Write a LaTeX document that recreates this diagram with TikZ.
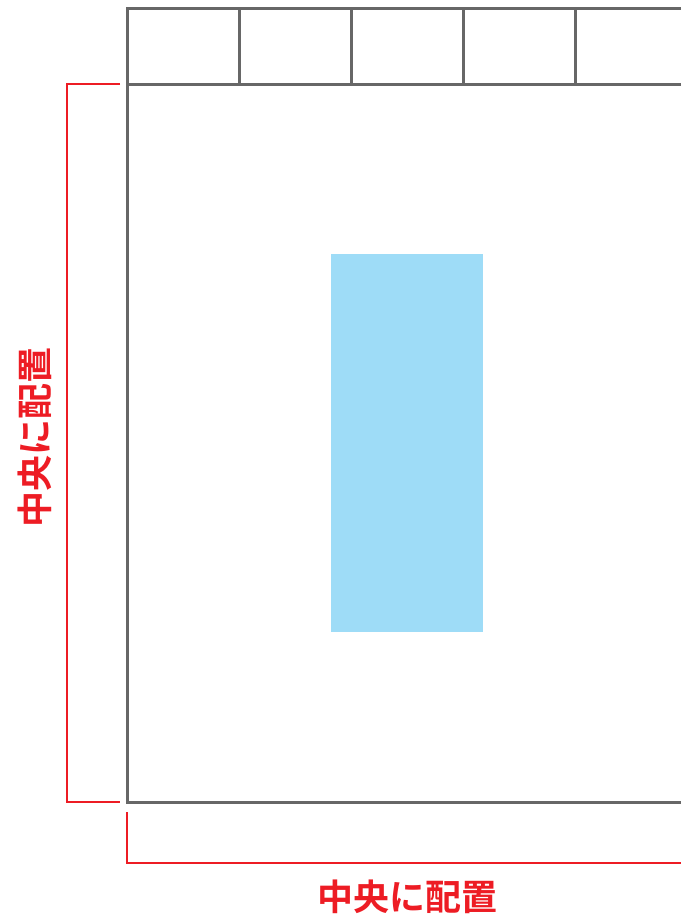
\documentclass[tikz,border=0pt]{standalone}
\usepackage{fontspec}
\newfontfamily\jpfont{Noto Sans CJK JP}[BoldFont={Noto Sans CJK JP Bold}]
\usetikzlibrary{positioning}
\definecolor{framegray}{HTML}{676767}
\definecolor{guidered}{HTML}{ED1C24}
\definecolor{itemblue}{HTML}{9EDCF7}

\begin{document}
\begin{tikzpicture}[
  x=1pt, y=-1pt,
  frame/.style={draw=framegray, line width=3pt},
  guide/.style={draw=guidered, line width=2.6pt},
  guidelabel/.style={font=\jpfont\bfseries\fontsize{36}{36}\selectfont, text=guidered, inner sep=0pt},
]
\useasboundingbox (0,0) rectangle (681,914);

% ═══════════════════════════════════════════
% HEADER ROW
% ═══════════════════════════════════════════
\coordinate (hdrtl) at (127,8);
\coordinate (hdrbl) at (127,84);
\draw[frame] (681,8) -- (hdrtl) -- (hdrbl);
\foreach \x in {239, 351, 463, 575} {
  \draw[frame] (\x,8) -- (\x,84);
}

% ═══════════════════════════════════════════
% MAIN AREA
% ═══════════════════════════════════════════
\coordinate (areabl) at (127,802);
\draw[frame] (681,84) -- (hdrbl) -- (areabl) -- (681,802);

% centred block
\fill[itemblue] (331,254) rectangle (483,632);

% ═══════════════════════════════════════════
% GUIDES
% ═══════════════════════════════════════════
\draw[guide] (120,84) -- (67,84) -- (67,802) -- (120,802);
\draw[guide] (127,812) -- (127,863) -- (681,863);

\node[guidelabel, rotate=90] (vlabel) at (35,437) {中央に配置};
\node[guidelabel] (hlabel) at (407,897) {中央に配置};

\end{tikzpicture}
\end{document}
